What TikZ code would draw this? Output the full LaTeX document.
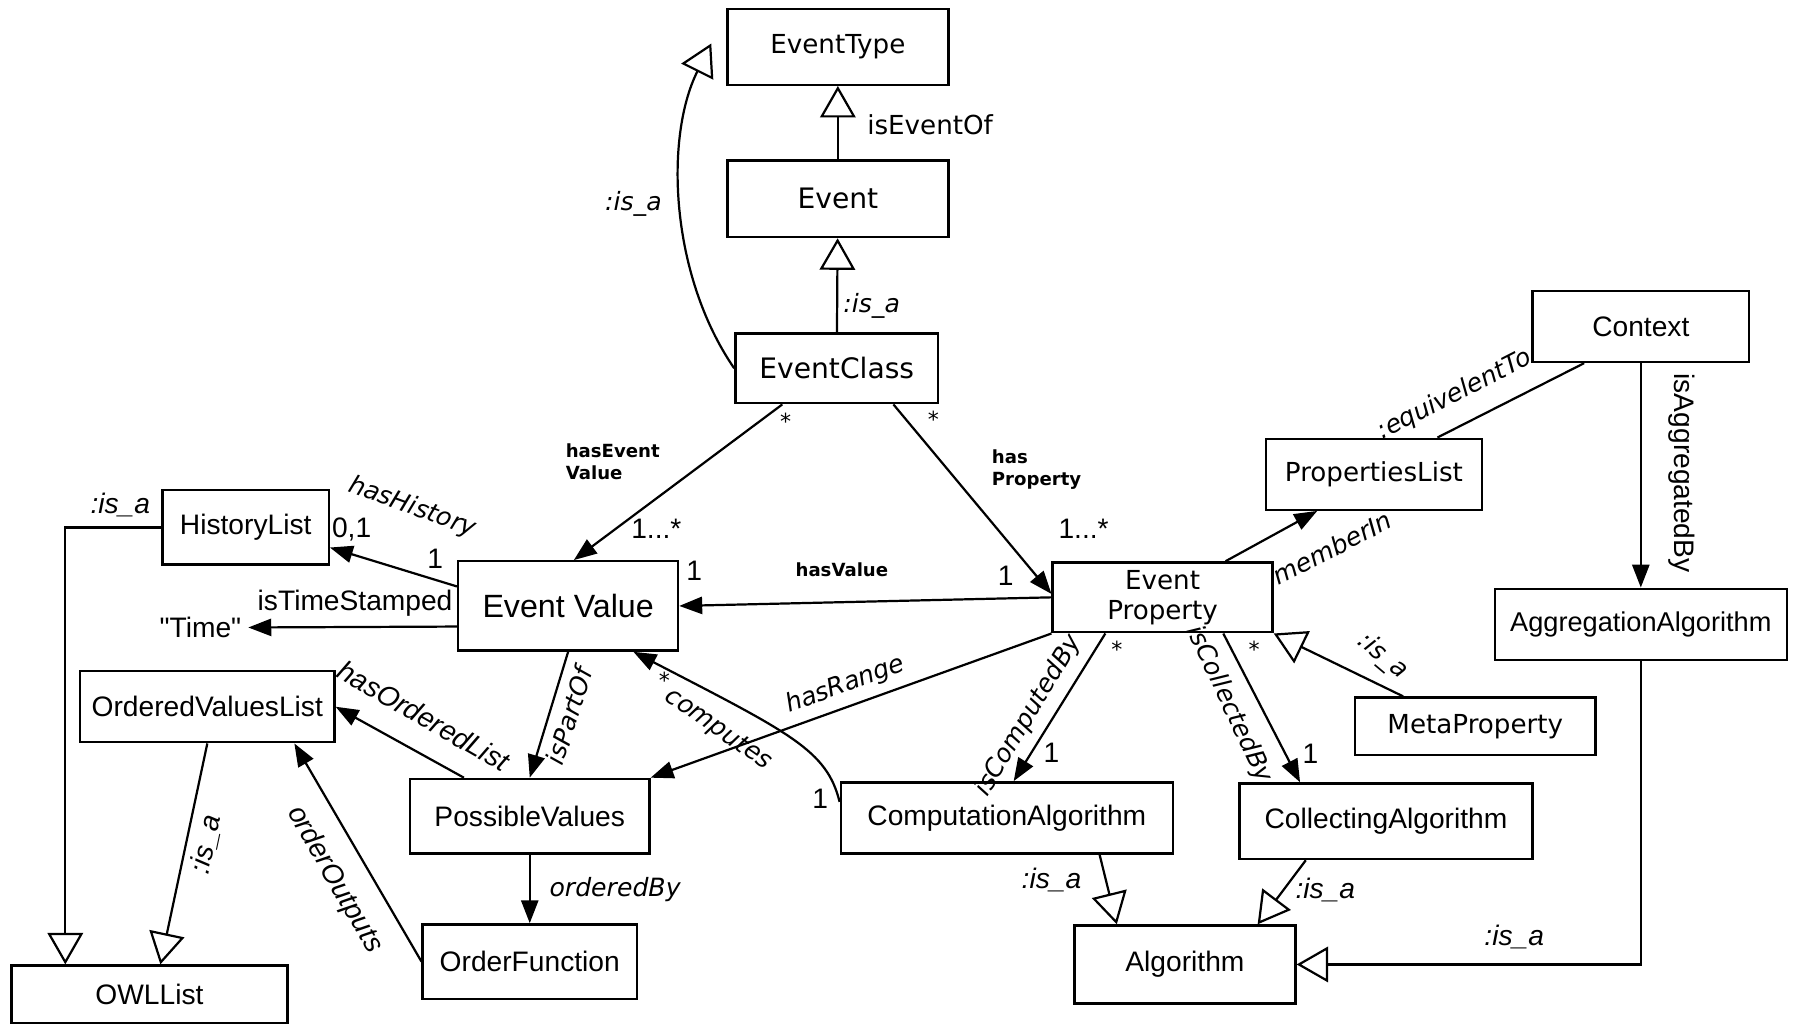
\documentclass[tikz,border=0pt]{standalone}
\usepackage{fontspec}
\setmainfont{Liberation Sans}
\newfontfamily\verd{DejaVu Sans}
\usetikzlibrary{arrows.meta}

\begin{document}
\begin{tikzpicture}[x=0.02cm, y=-0.02cm,
  cls/.style={draw, line width=1.2pt, inner sep=1pt, font=\fontsize{14}{16}\selectfont},
  vcls/.style={cls, font=\verd\fontsize{13}{15}\selectfont},
  lbl/.style={font=\fontsize{14}{16}\selectfont},
  vlbl/.style={font=\verd\fontsize{13}{15}\selectfont},
  rel/.style={font=\verd\itshape\fontsize{12.5}{14}\selectfont},
  arel/.style={font=\itshape\fontsize{14}{16}\selectfont},
  bld/.style={font=\verd\bfseries\fontsize{9}{11}\selectfont, align=left},
  mult/.style={font=\verd\fontsize{11}{12}\selectfont},
  conn/.style={line width=1.1pt, -{Triangle[length=0.4cm, width=0.3cm]}},
  isa/.style={line width=1.1pt, -{Triangle[open, length=0.55cm, width=0.62cm]}},
  plain/.style={line width=1.1pt}]
\path[use as bounding box, fill=white] (0,0) rectangle (1568,894);

% classes
\node[vcls, minimum width=3.86cm, minimum height=1.32cm] (et) at (731.5,41) {EventType};
\node[vcls, minimum width=3.86cm, minimum height=1.34cm, font=\verd\fontsize{14}{16}\selectfont] (ev) at (731.5,173.5) {Event};
\node[vcls, minimum width=3.54cm, minimum height=1.22cm, font=\verd\fontsize{14}{16}\selectfont] (ecl) at (730.5,321.5) {EventClass};
\node[cls, minimum width=3.78cm, minimum height=1.24cm] (ctx) at (1432.5,285) {Context};
\node[vcls, minimum width=3.78cm, minimum height=1.24cm] (pl) at (1199.5,414) {PropertiesList};
\node[cls, minimum width=2.9cm, minimum height=1.3cm] (hl) at (214.5,460.5) {HistoryList};
\node[cls, minimum width=3.84cm, minimum height=1.56cm, font=\fontsize{16}{18}\selectfont] (evl) at (496,529) {Event Value};
\node[vcls, minimum width=3.84cm, minimum height=1.22cm, align=center] (ep) at (1015,521.5) {Event\\Property};
\node[cls, minimum width=5.1cm, minimum height=1.24cm, font=\fontsize{13.5}{16}\selectfont] (aa) at (1432.5,545) {AggregationAlgorithm};
\node[cls, minimum width=4.44cm, minimum height=1.24cm] (ovl) at (181,617) {OrderedValuesList};
\node[vcls, minimum width=4.2cm, minimum height=1.0cm] (mp) at (1288,634) {MetaProperty};
\node[cls, minimum width=4.18cm, minimum height=1.3cm] (pv) at (462.5,712.5) {PossibleValues};
\node[cls, minimum width=5.8cm, minimum height=1.24cm] (ca) at (879,714) {ComputationAlgorithm};
\node[cls, minimum width=5.12cm, minimum height=1.32cm] (cola) at (1210,717) {CollectingAlgorithm};
\node[cls, minimum width=3.74cm, minimum height=1.3cm] (of) at (462.5,839.5) {OrderFunction};
\node[cls, minimum width=3.86cm, minimum height=1.36cm] (alg) at (1034.5,842) {Algorithm};
\node[cls, minimum width=4.82cm, minimum height=1.0cm] (owl) at (130.5,868) {OWLList};
\node[lbl] (time) at (175,548) {\textquotedbl Time\textquotedbl};

% is_a links
\draw[isa] (ev) -- (et);
\draw[isa] (ecl) -- (ev);
\draw[isa] (ecl.west) .. controls (585,240) and (580,120) .. ([xshift=-0.26cm, yshift=0.06cm]et.west);
\draw[isa] (ovl.south) -- ([xshift=0.19cm]owl.north);
\draw[isa] (hl.west) -| ([xshift=-1.47cm]owl.north);
\draw[isa] (aa.south) |- (alg.east);
\draw[isa] ([xshift=-1.26cm]mp.north) -- (ep.south east);
\draw[isa] ([xshift=1.62cm]ca.south) -- ([xshift=-1.19cm]alg.north);
\draw[isa] ([xshift=-1.4cm]cola.south) -- ([xshift=1.27cm]alg.north);

% properties
\draw[conn] ([xshift=-0.95cm]ecl.south) -- ([xshift=0.1cm]evl.north);
\draw[conn] ([xshift=0.99cm]ecl.south) -- ([yshift=0.06cm]ep.west);
\draw[conn] (ep.west) -- (evl.east);
\draw[conn] ([yshift=0.34cm]evl.west) -- ([yshift=-0.35cm]hl.east);
\draw[conn] ([yshift=-0.36cm]evl.west) -- (time);
\draw[conn] (evl.south) -- (pv.north);
\draw[conn] ([yshift=0.28cm]ca.west) .. controls (722,655) and (690,640) .. ([xshift=1.14cm]evl.south);
\draw[conn] (ep.south west) -- (pv.north east);
\draw[conn] ([xshift=-1.15cm]pv.north) -- (ovl.east);
\draw[conn] (pv) -- (of);
\draw[conn] (of.west) -- ([xshift=1.52cm]ovl.south);
\draw[conn] ([xshift=1.1cm]ep.north) -- ([xshift=-0.99cm]pl.south);
\draw[plain] ([xshift=-0.99cm]ctx.south) -- ([xshift=1.11cm]pl.north);
\draw[conn] (ctx) -- (aa);
\draw[conn] ([xshift=-1.0cm]ep.south) -- ([xshift=0.12cm]ca.north);
\draw[conn] ([xshift=1.06cm]ep.south) -- ([xshift=-1.5cm]cola.north);

% labels
\node[vlbl] (lEventOf) at (812,109) {isEventOf};
\node[rel] (lIsa1) at (761,267) {:is\_a};
\node[rel] (lIsa2) at (553,178) {:is\_a};
\node[bld] (lHasEV) at (535,403) {hasEvent\\Value};
\node[mult] (m1) at (686,368) {*};
\node[mult] (m2) at (815,366) {*};
\node[bld] (lHasProp) at (905,410) {has\\Property};
\node[lbl] (m3) at (573,462) {1...*};
\node[lbl] (m4) at (946,462) {1...*};
\node[lbl] (m5) at (606,498) {1};
\node[lbl] (m6) at (878,503) {1};
\node[bld] (lHasVal) at (735,497) {hasValue};
\node[rel, rotate=-20] (lHist) at (360,443) {hasHistory};
\node[lbl] (m7) at (307,462) {0,1};
\node[lbl] (m8) at (380,488) {1};
\node[lbl] (lStamp) at (310,527) {isTimeStamped};
\node[arel] (lIsa3) at (105,441) {:is\_a};
\node[rel, rotate=72] (lPart) at (497,625) {isPartOf};
\node[mult] (m9) at (580,594) {*};
\node[rel, rotate=-35] (lComp) at (627,637) {computes};
\node[lbl] (m10) at (716,697) {1};
\node[rel, rotate=20] (lRange) at (738,598) {hasRange};
\node[arel, rotate=-30] (lOrdList) at (370,625) {hasOrderedList};
\node[rel] (lOrdBy) at (537,777) {orderedBy};
\node[arel, rotate=-60] (lOrdOut) at (292,768) {orderOutputs};
\node[arel, rotate=78] (lIsa4) at (180,737) {:is\_a};
\node[rel, rotate=27] (lMember) at (1163,478) {memberIn};
\node[rel, rotate=27] (lEquiv) at (1270,345) {:equivelentTo};
\node[lbl, rotate=-90] (lAggr) at (1468,413) {isAggregatedBy};
\node[rel, rotate=-40] (lIsa5) at (1207,573) {:is\_a};
\node[arel] (lIsa6) at (1322,818) {:is\_a};
\node[mult] (m11) at (975,567) {*};
\node[rel, rotate=59] (lCompBy) at (898,625) {isComputedBy};
\node[lbl] (m12) at (918,657) {1};
\node[mult] (m13) at (1095,567) {*};
\node[rel, rotate=-65] (lCollBy) at (1073,615) {isCollectedBy};
\node[lbl] (m14) at (1144,658) {1};
\node[arel] (lIsa7) at (918,768) {:is\_a};
\node[arel] (lIsa8) at (1157,777) {:is\_a};
\end{tikzpicture}
\end{document}
